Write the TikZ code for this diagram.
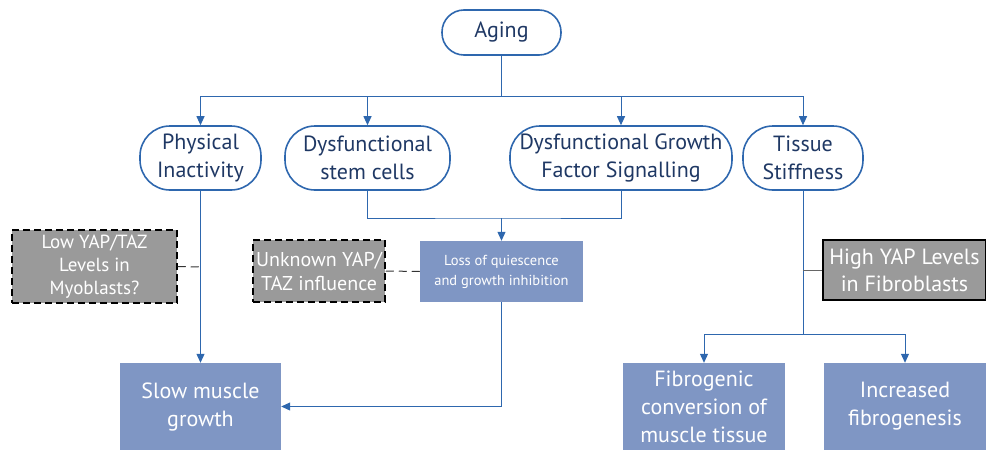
\documentclass[tikz,border=0pt]{standalone}
\usepackage{fontspec}
\setmainfont{PT Sans}
\usetikzlibrary{arrows.meta}
\definecolor{lineblue}{HTML}{2E67AE}
\definecolor{navy}{HTML}{1F3864}
\definecolor{boxblue}{HTML}{7F96C4}
\definecolor{boxgray}{HTML}{9A9A9A}
\begin{document}
\begin{tikzpicture}[x=1pt,y=-1pt,
  oval/.style={draw=lineblue, line width=1.6pt, text=navy, align=center, inner sep=0pt, font=\fontsize{22}{28}\selectfont},
  bluebox/.style={fill=boxblue, text=white, align=center, inner sep=0pt, font=\fontsize{22}{28}\selectfont},
  graybox/.style={fill=boxgray, draw=black, line width=1.5pt, text=white, align=center, inner sep=0pt, font=\fontsize{19}{23}\selectfont},
  dashbox/.style={dash pattern=on 7pt off 4pt},
  conn/.style={draw=lineblue, line width=1pt},
  arr/.style={conn, -{Triangle[length=9pt,width=8pt]}},
  dashconn/.style={draw=black!80, line width=1pt, dash pattern=on 8pt off 5pt},
]
\useasboundingbox (0,0) rectangle (986,450);
% top level
\node[oval, rounded corners=22pt, minimum width=119pt, minimum height=45pt] (aging) at (501.5,32.5) {Aging};
\node[oval, rounded corners=30pt, minimum width=121pt, minimum height=64pt] (phys) at (200.5,158) {Physical\\Inactivity};
\node[oval, rounded corners=30pt, minimum width=165pt, minimum height=64pt] (stem) at (367.5,158) {Dysfunctional\\stem cells};
\node[oval, rounded corners=30pt, minimum width=222pt, minimum height=64pt] (gfs) at (621,158) {Dysfunctional Growth\\Factor Signalling};
\node[oval, rounded corners=30pt, minimum width=120pt, minimum height=64pt] (tis) at (803,158) {Tissue\\Stiffness};
% middle
\node[graybox, dashbox, minimum width=165pt, minimum height=73pt] (low) at (94.5,266.5) {Low YAP/TAZ\\Levels in\\Myoblasts?};
\node[graybox, dashbox, minimum width=132pt, minimum height=62pt, font=\fontsize{20}{24}\selectfont] (unk) at (319,271) {Unknown YAP/\\TAZ influence};
\node[bluebox, minimum width=163pt, minimum height=61pt, font=\fontsize{14.5}{20}\selectfont] (loss) at (501.5,271.5) {Loss of quiescence\\and growth inhibition};
\node[graybox, minimum width=163pt, minimum height=60pt, font=\fontsize{22}{27}\selectfont] (high) at (904.5,270) {High YAP Levels\\in Fibroblasts};
% bottom
\node[bluebox, minimum width=161pt, minimum height=87pt] (slow) at (200.5,406.5) {Slow muscle\\growth};
\node[bluebox, minimum width=162pt, minimum height=87pt] (fib) at (704,406.5) {Fibrogenic\\conversion of\\muscle tissue};
\node[bluebox, minimum width=162pt, minimum height=87pt] (inc) at (905,406.5) {Increased\\fibrogenesis};
% coordinates
\coordinate (top) at (501.5,96);
\coordinate (join) at (501.5,218);
\coordinate (tbranch) at (803,334);
\coordinate (physmid) at (200.5,267);
\coordinate (tismid) at (803,270);
% connectors from aging
\draw[conn] (aging.south) -- (top);
\draw[conn] (phys.north |- top) -- (tis.north |- top);
\draw[arr] (phys.north |- top) -- (phys.north);
\draw[arr] (stem.north |- top) -- (stem.north);
\draw[arr] (gfs.north |- top) -- (gfs.north);
\draw[arr] (tis.north |- top) -- (tis.north);
% stem + gfs join
\draw[conn] (stem.south) |- (join) -| (gfs.south);
\draw[arr] (join) -- (loss.north);
\draw[dashconn] (unk.east) -- (loss.west);
% physical inactivity
\draw[arr] (phys.south) -- (slow.north);
\draw[dashconn] (low.east) -- (physmid);
% loss to slow
\draw[arr] (loss.south) |- (slow.east);
% tissue stiffness
\draw[conn] (tis.south) -- (tbranch);
\draw[draw=black!60, line width=1pt] (tismid) -- (high.west);
\draw[conn] (fib.north |- tbranch) -- (inc.north |- tbranch);
\draw[arr] (fib.north |- tbranch) -- (fib.north);
\draw[arr] (inc.north |- tbranch) -- (inc.north);
\end{tikzpicture}
\end{document}
